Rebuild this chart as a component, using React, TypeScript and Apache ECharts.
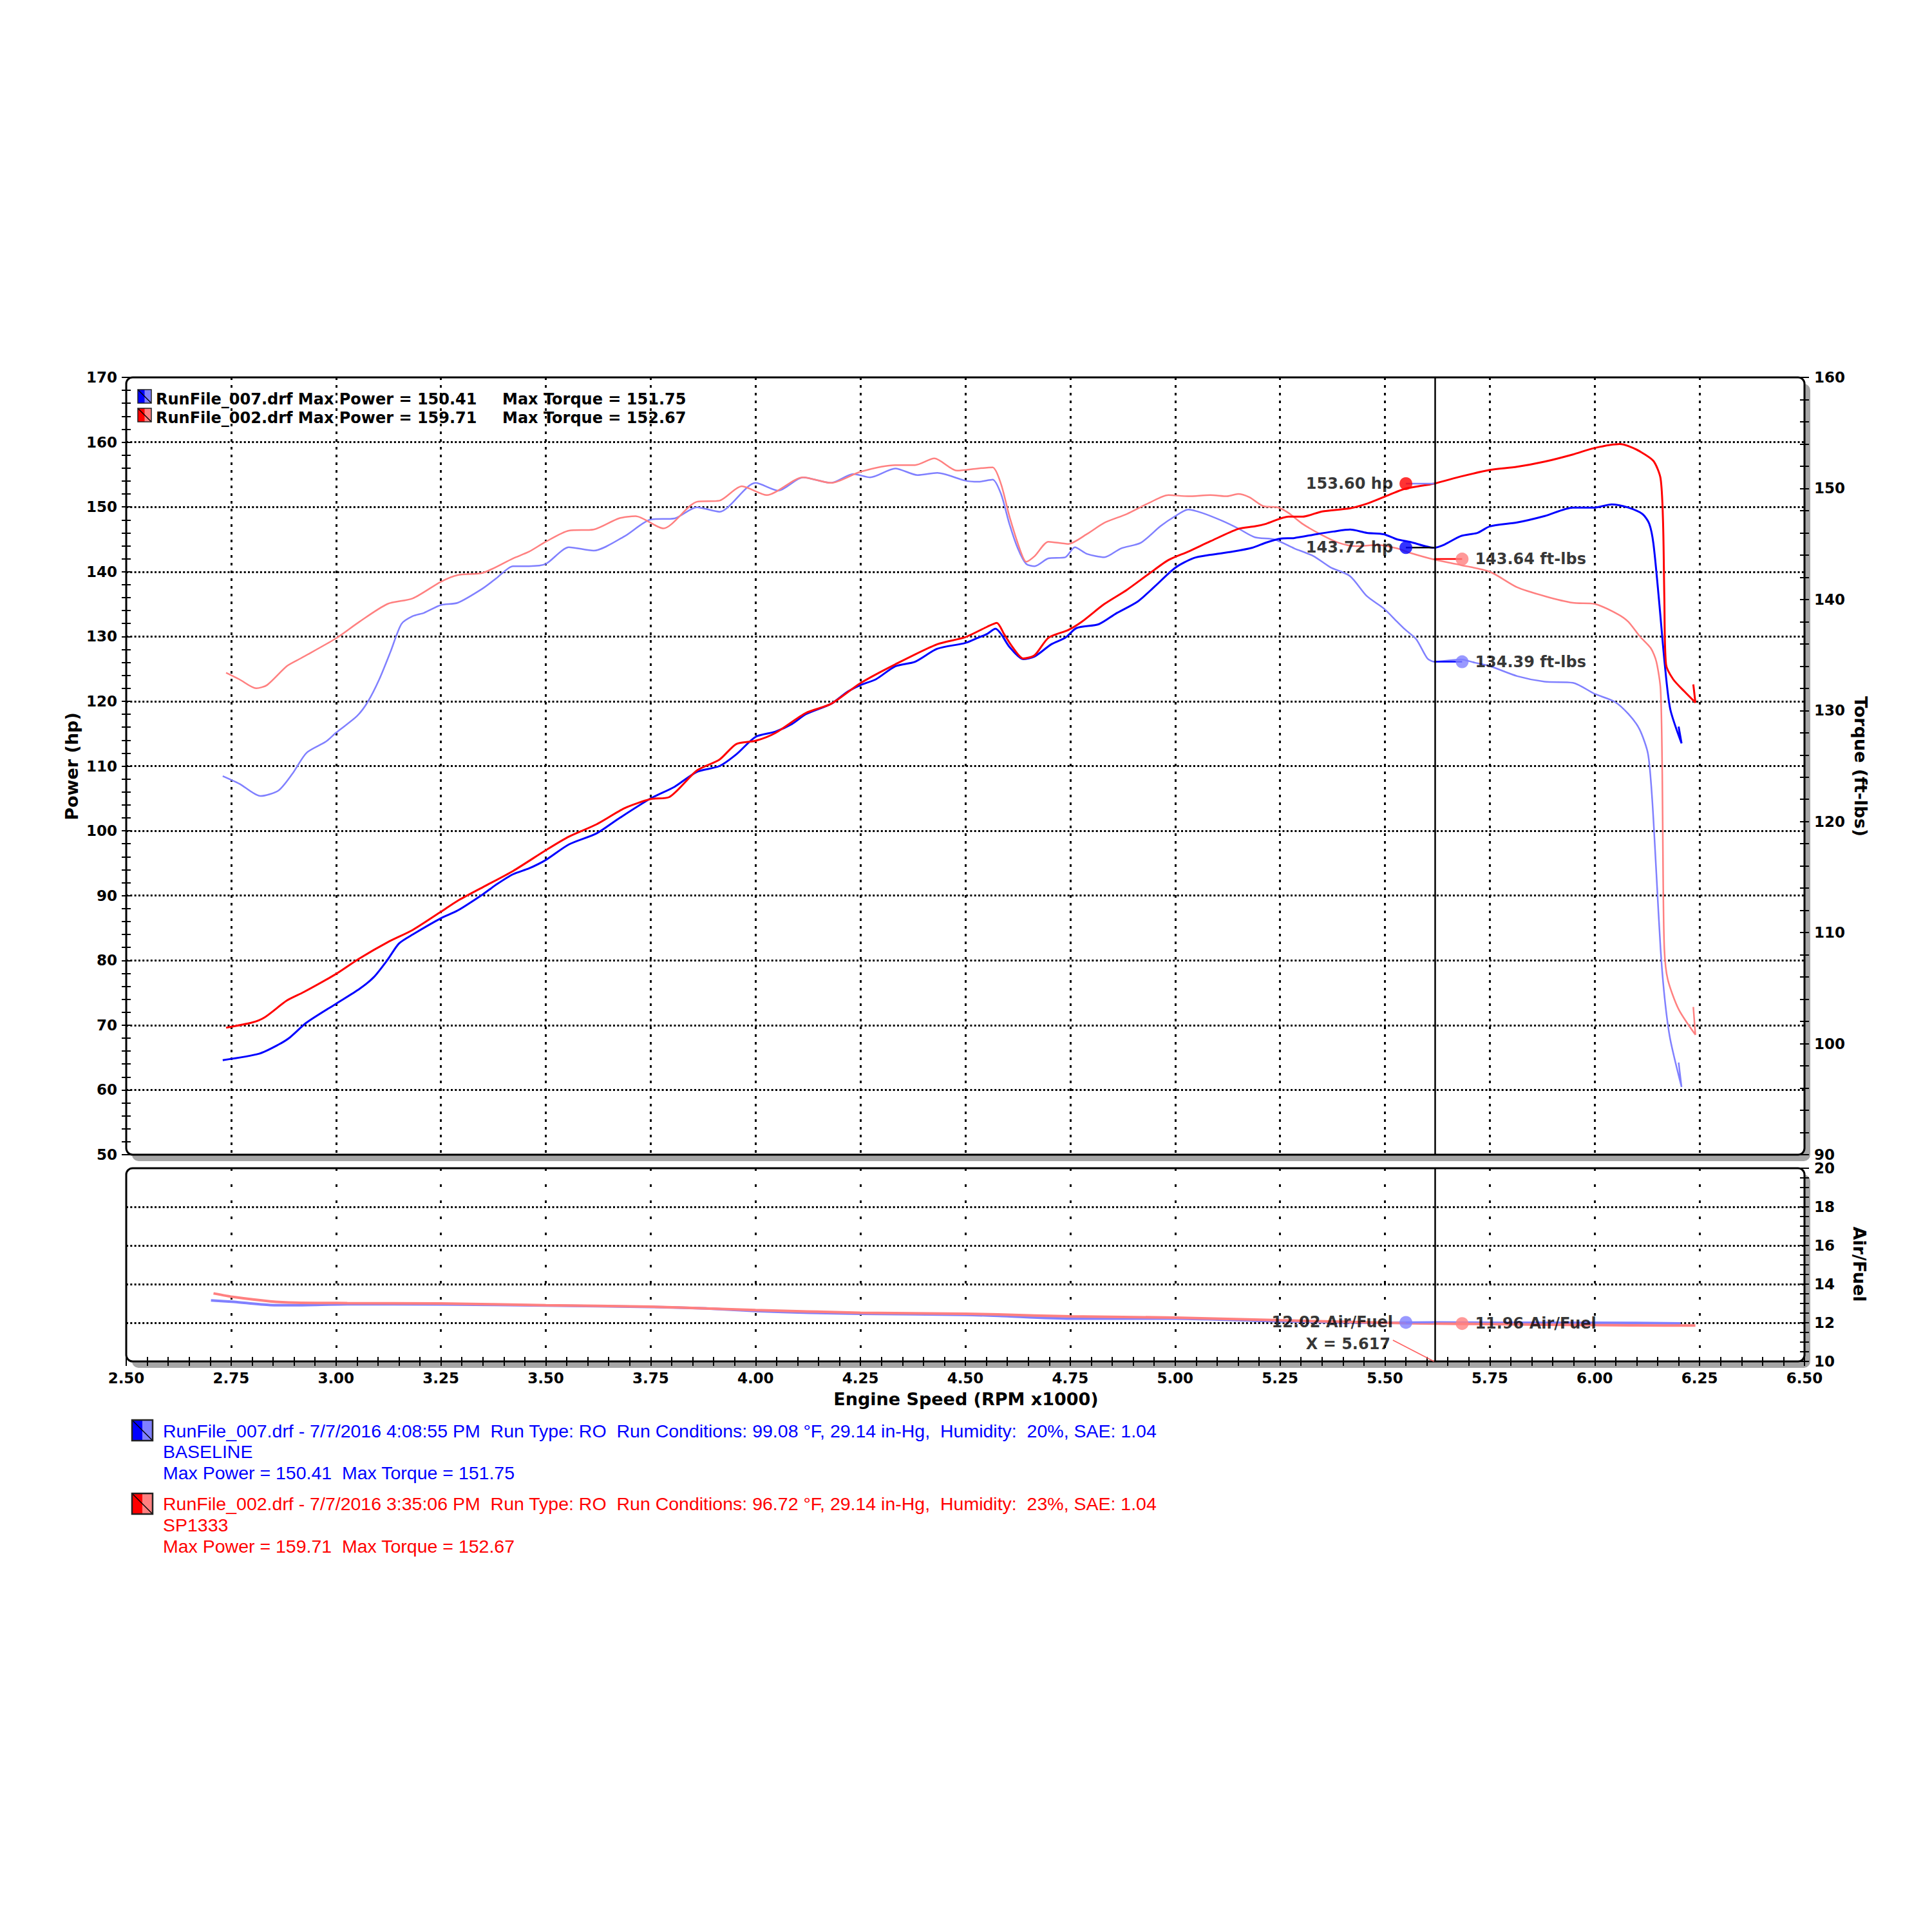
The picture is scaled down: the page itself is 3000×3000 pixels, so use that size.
import React, { useEffect, useRef } from "react";
import * as echarts from "echarts";

// ---------- data (RPM x1000 and values) ----------
const bluePowerRpm = [2.73, 2.817, 2.863, 2.89, 2.93, 3.0, 3.056, 3.09, 3.123, 3.15, 3.183, 3.25, 3.29, 3.35, 3.382, 3.422, 3.46, 3.5, 3.555, 3.621, 3.674, 3.75, 3.807, 3.86, 3.914, 3.954, 4.0, 4.047, 4.087, 4.12, 4.18, 4.22, 4.25, 4.287, 4.333, 4.38, 4.433, 4.5, 4.53, 4.552, 4.572, 4.585, 4.605, 4.638, 4.665, 4.705, 4.738, 4.765, 4.818, 4.858, 4.911, 4.951, 5.0, 5.044, 5.084, 5.137, 5.184, 5.217, 5.25, 5.284, 5.337, 5.377, 5.417, 5.457, 5.497, 5.529, 5.56, 5.617, 5.642, 5.681, 5.721, 5.75, 5.815, 5.881, 5.948, 6.0, 6.04, 6.08, 6.114, 6.13, 6.14, 6.153, 6.167, 6.18, 6.207, 6.2];
const bluePowerHp = [64.6, 65.6, 67.0, 68.1, 70.4, 73.3, 75.6, 77.4, 80.1, 82.6, 84.0, 86.5, 87.7, 90.2, 91.7, 93.3, 94.2, 95.5, 97.9, 99.6, 101.9, 105.0, 106.8, 109.1, 110.0, 111.8, 114.5, 115.3, 116.5, 118.0, 119.6, 121.5, 122.5, 123.4, 125.4, 126.1, 128.1, 129.0, 129.8, 130.4, 131.2, 130.4, 128.4, 126.5, 126.9, 128.8, 129.8, 131.3, 131.9, 133.5, 135.4, 137.7, 140.6, 142.1, 142.6, 143.1, 143.7, 144.5, 145.1, 145.2, 145.8, 146.2, 146.5, 146.0, 145.8, 145.0, 144.6, 143.7, 144.2, 145.5, 146.0, 147.0, 147.6, 148.6, 149.9, 149.9, 150.4, 149.9, 148.9, 147.4, 144.3, 135.8, 125.7, 118.8, 113.5, 116.1];

const redPowerRpm = [2.738, 2.8, 2.83, 2.883, 2.923, 3.0, 3.056, 3.123, 3.183, 3.25, 3.29, 3.35, 3.422, 3.5, 3.555, 3.621, 3.688, 3.75, 3.794, 3.86, 3.914, 3.954, 4.0, 4.047, 4.12, 4.18, 4.25, 4.333, 4.433, 4.5, 4.552, 4.575, 4.592, 4.612, 4.638, 4.665, 4.698, 4.745, 4.778, 4.831, 4.885, 4.938, 4.984, 5.031, 5.084, 5.15, 5.19, 5.217, 5.27, 5.304, 5.35, 5.417, 5.457, 5.5, 5.548, 5.617, 5.681, 5.75, 5.815, 5.881, 5.948, 6.0, 6.06, 6.08, 6.107, 6.14, 6.157, 6.163, 6.166, 6.17, 6.187, 6.214, 6.24, 6.235];
const redPowerHp = [69.6, 70.4, 71.2, 73.8, 75.1, 77.9, 80.3, 82.8, 84.7, 87.5, 89.2, 91.3, 93.8, 97.0, 99.1, 101.0, 103.5, 104.9, 105.2, 109.3, 111.0, 113.4, 113.9, 115.1, 118.2, 119.6, 122.8, 125.7, 128.8, 129.9, 131.5, 132.1, 130.4, 128.4, 126.6, 127.1, 129.8, 131.0, 132.3, 135.0, 137.2, 139.7, 141.8, 143.1, 144.7, 146.6, 147.0, 147.4, 148.5, 148.5, 149.3, 149.8, 150.5, 151.6, 152.8, 153.6, 154.7, 155.7, 156.2, 157.0, 158.1, 159.1, 159.7, 159.4, 158.6, 157.1, 154.4, 147.4, 135.8, 125.7, 123.4, 121.5, 119.8, 122.6];

const blueTorqueRpm = [2.73, 2.77, 2.82, 2.863, 2.896, 2.93, 2.976, 3.0, 3.05, 3.076, 3.103, 3.13, 3.156, 3.183, 3.21, 3.25, 3.29, 3.35, 3.382, 3.422, 3.46, 3.5, 3.555, 3.614, 3.688, 3.75, 3.807, 3.86, 3.914, 4.0, 4.054, 4.113, 4.18, 4.233, 4.273, 4.333, 4.386, 4.433, 4.5, 4.53, 4.565, 4.585, 4.605, 4.625, 4.645, 4.665, 4.698, 4.738, 4.761, 4.79, 4.831, 4.871, 4.918, 4.965, 5.0, 5.031, 5.064, 5.111, 5.15, 5.19, 5.237, 5.284, 5.33, 5.37, 5.417, 5.457, 5.497, 5.529, 5.548, 5.575, 5.601, 5.617, 5.681, 5.715, 5.75, 5.815, 5.881, 5.948, 6.0, 6.047, 6.08, 6.107, 6.127, 6.137, 6.147, 6.157, 6.167, 6.18, 6.207, 6.2];
const blueTorqueFtLb = [124.1, 123.4, 122.3, 122.8, 124.3, 126.2, 127.2, 128.0, 129.5, 130.8, 132.8, 135.3, 137.8, 138.5, 138.8, 139.5, 139.7, 141.0, 141.9, 143.0, 143.0, 143.2, 144.7, 144.4, 145.7, 147.2, 147.3, 148.3, 147.9, 150.5, 149.8, 151.0, 150.5, 151.3, 151.0, 151.8, 151.2, 151.4, 150.7, 150.6, 150.8, 149.5, 146.8, 144.6, 143.2, 143.0, 143.7, 143.8, 144.7, 144.1, 143.8, 144.6, 145.1, 146.6, 147.5, 148.1, 147.8, 147.1, 146.4, 145.6, 145.4, 144.6, 143.9, 142.9, 142.1, 140.3, 139.2, 138.0, 137.3, 136.4, 134.7, 134.4, 134.6, 134.3, 134.0, 133.1, 132.6, 132.5, 131.5, 130.8, 129.7, 128.3, 126.1, 122.0, 115.3, 108.5, 104.0, 100.4, 96.1, 98.3];

const redTorqueRpm = [2.738, 2.77, 2.81, 2.836, 2.883, 2.916, 3.0, 3.056, 3.123, 3.183, 3.25, 3.29, 3.35, 3.422, 3.46, 3.5, 3.555, 3.614, 3.674, 3.714, 3.78, 3.86, 3.914, 3.967, 4.027, 4.113, 4.18, 4.25, 4.333, 4.38, 4.426, 4.48, 4.53, 4.565, 4.585, 4.605, 4.632, 4.645, 4.665, 4.698, 4.745, 4.79, 4.831, 4.885, 4.938, 4.984, 5.031, 5.084, 5.124, 5.15, 5.177, 5.21, 5.244, 5.27, 5.304, 5.35, 5.39, 5.43, 5.482, 5.529, 5.56, 5.617, 5.681, 5.75, 5.815, 5.881, 5.948, 6.0, 6.054, 6.08, 6.107, 6.134, 6.147, 6.157, 6.161, 6.163, 6.166, 6.174, 6.2, 6.24, 6.235];
const redTorqueFtLb = [133.4, 132.8, 132.0, 132.3, 134.0, 134.7, 136.5, 138.0, 139.6, 140.1, 141.6, 142.2, 142.4, 143.7, 144.3, 145.2, 146.2, 146.3, 147.3, 147.5, 146.4, 148.8, 148.9, 150.2, 149.4, 151.0, 150.5, 151.5, 152.1, 152.1, 152.7, 151.6, 151.8, 151.9, 150.4, 147.5, 144.3, 143.4, 143.9, 145.2, 145.0, 145.9, 146.9, 147.7, 148.7, 149.4, 149.3, 149.4, 149.3, 149.5, 149.2, 148.4, 148.3, 147.8, 146.8, 145.8, 145.1, 144.8, 144.9, 144.6, 144.2, 143.6, 143.1, 142.5, 141.1, 140.3, 139.7, 139.6, 138.7, 138.0, 136.7, 135.6, 134.4, 131.9, 124.3, 115.3, 108.5, 105.8, 103.1, 100.8, 103.3];

const blueAfrRpm = [2.702, 2.757, 2.843, 2.904, 3.027, 3.25, 3.5, 3.75, 3.883, 4.0, 4.128, 4.25, 4.5, 4.578, 4.75, 5.0, 5.25, 5.5, 5.617, 5.75, 6.0, 6.205];
const blueAfr = [13.16, 13.08, 12.92, 12.91, 12.96, 12.95, 12.89, 12.82, 12.74, 12.61, 12.52, 12.47, 12.41, 12.36, 12.22, 12.22, 12.08, 12.0, 12.02, 12.0, 12.0, 11.97];
const redAfrRpm = [2.708, 2.757, 2.843, 2.904, 3.027, 3.25, 3.5, 3.75, 3.883, 4.0, 4.25, 4.5, 4.578, 4.75, 5.0, 5.25, 5.5, 5.617, 5.75, 6.0, 6.167, 6.24];
const redAfr = [13.52, 13.33, 13.11, 13.04, 13.02, 13.0, 12.91, 12.83, 12.74, 12.66, 12.52, 12.47, 12.43, 12.33, 12.27, 12.13, 12.0, 11.96, 11.93, 11.88, 11.86, 11.86];

// cursor readout
const cursorRpm = 5.617;
const cursorPower = { red: 153.6, blue: 143.72 };
const cursorTorque = { red: 143.64, blue: 134.39 };
const cursorAfr = { blue: 12.02, red: 11.96 };

// tick ranges
const rpmMin = 2.5, rpmMax = 6.5, rpmStep = 0.25;
const hpMin = 50, hpMax = 170, hpStep = 10;
const tqMin = 90, tqMax = 160, tqStep = 10;
const afrMin = 10, afrMax = 20, afrStep = 2;

// text
const legendTop = [
  { file: "RunFile_007.drf", maxPower: "150.41", maxTorque: "151.75" },
  { file: "RunFile_002.drf", maxPower: "159.71", maxTorque: "152.67" },
];
const runInfo = [
  {
    line1: "RunFile_007.drf - 7/7/2016 4:08:55 PM  Run Type: RO  Run Conditions: 99.08 °F, 29.14 in-Hg,  Humidity:  20%, SAE: 1.04",
    line2: "BASELINE",
    line3: "Max Power = 150.41  Max Torque = 151.75",
  },
  {
    line1: "RunFile_002.drf - 7/7/2016 3:35:06 PM  Run Type: RO  Run Conditions: 96.72 °F, 29.14 in-Hg,  Humidity:  23%, SAE: 1.04",
    line2: "SP1333",
    line3: "Max Power = 159.71  Max Torque = 152.67",
  },
];

// ---------- styling ----------
const BLUE = "#0000ff";
const RED = "#ff0000";
const LBLUE = "#8080ff";
const LRED = "#ff8080";
const FONT = '"DejaVu Sans", Verdana, sans-serif';
const SANS = '"Liberation Sans", Arial, sans-serif';

const G0 = { left: 196, top: 586, width: 2606, height: 1207 };
const G1 = { left: 196, top: 1814, width: 2606, height: 300 };
const DOT_DX = 0.067;

const zip = (xs: number[], ys: number[]) => xs.map((x, i) => [x, ys[i]]);

const tickStyle = { color: "#000", width: 2 };
const labelStyle = { color: "#000", fontFamily: FONT, fontWeight: "bold" as const, fontSize: 23 };

function frame(g: { left: number; top: number; width: number; height: number }) {
  return [
    {
      type: "rect", z: -11, silent: true,
      shape: { x: g.left + 9, y: g.top + 10, width: g.width, height: g.height, r: 10 },
      style: { fill: "#a6a6a6" },
    },
    {
      type: "rect", z: -10, silent: true,
      shape: { x: g.left, y: g.top, width: g.width, height: g.height, r: 10 },
      style: { fill: "#ffffff", stroke: "#000", lineWidth: 3 },
    },
  ];
}

function icon(x: number, y: number, s: number, dark: string, light: string, bw: number) {
  return {
    type: "group", silent: true,
    children: [
      { type: "rect", shape: { x, y, width: s, height: s }, style: { fill: light } },
      { type: "rect", shape: { x, y, width: s / 2, height: s }, style: { fill: dark } },
      { type: "line", shape: { x1: x, y1: y, x2: x + s, y2: y + s }, style: { stroke: "#000", lineWidth: 1.5 } },
      { type: "rect", shape: { x, y, width: s, height: s }, style: { fill: "none", stroke: "#222", lineWidth: bw } },
    ],
  };
}

function text(x: number, y: number, t: string, font: string, fill: string, align = "left", rotation = 0) {
  return {
    type: "text", x, y, rotation, silent: true,
    style: { text: t, font, fill, align, verticalAlign: "middle", textAlign: align, textVerticalAlign: "middle" },
  };
}

function buildOption() {
  const xBase = { type: "value", min: rpmMin, max: rpmMax, interval: rpmStep };
  const noLine = { show: false };

  const xAxis = [
    {
      ...xBase, gridIndex: 0, axisLine: noLine, axisTick: { show: false }, axisLabel: { show: false },
      splitLine: { show: true, showMinLine: false, showMaxLine: false, lineStyle: { color: "#000", width: 3, type: [4, 8] } },
    },
    {
      ...xBase, gridIndex: 1, position: "bottom", axisLine: noLine,
      axisTick: { show: true, length: 7, lineStyle: tickStyle },
      minorTick: { show: true, splitNumber: 5, length: 7, lineStyle: tickStyle },
      axisLabel: { ...labelStyle, show: true, margin: 14, showMinLabel: true, showMaxLabel: true, formatter: (v: number) => v.toFixed(2) },
      splitLine: { show: true, showMinLine: false, showMaxLine: false, lineStyle: { color: "#000", width: 3, type: [4, 21] } },
    },
    {
      ...xBase, gridIndex: 1, position: "bottom", axisLine: noLine,
      axisTick: { show: true, inside: true, length: 7, lineStyle: tickStyle },
      minorTick: { show: true, splitNumber: 5, length: 7, lineStyle: tickStyle },
      axisLabel: { show: false }, splitLine: { show: false },
    },
  ];

  const hpBase = { type: "value", gridIndex: 0, min: hpMin, max: hpMax, interval: hpStep, position: "left", axisLine: noLine };
  const tqBase = { type: "value", gridIndex: 0, min: tqMin, max: tqMax, interval: tqStep, position: "right", axisLine: noLine };
  const afrBase = { type: "value", gridIndex: 1, min: afrMin, max: afrMax, interval: afrStep, position: "right", axisLine: noLine };

  const yAxis = [
    {
      ...hpBase,
      axisTick: { show: true, length: 7, lineStyle: tickStyle },
      minorTick: { show: true, splitNumber: 5, length: 7, lineStyle: tickStyle },
      axisLabel: { ...labelStyle, margin: 14, showMinLabel: true, showMaxLabel: true },
      splitLine: { show: true, showMinLine: false, showMaxLine: false, lineStyle: { color: "#000", width: 3, type: [3, 3.3] } },
    },
    {
      ...tqBase,
      axisTick: { show: true, length: 7, lineStyle: tickStyle },
      minorTick: { show: true, splitNumber: 5, length: 7, lineStyle: tickStyle },
      axisLabel: { ...labelStyle, margin: 15, showMinLabel: true, showMaxLabel: true },
      splitLine: { show: false },
    },
    {
      ...hpBase,
      axisTick: { show: true, inside: true, length: 7, lineStyle: tickStyle },
      minorTick: { show: true, splitNumber: 5, length: 7, lineStyle: tickStyle },
      axisLabel: { show: false }, splitLine: { show: false },
    },
    {
      ...tqBase,
      axisTick: { show: true, inside: true, length: 7, lineStyle: tickStyle },
      minorTick: { show: true, splitNumber: 5, length: 7, lineStyle: tickStyle },
      axisLabel: { show: false }, splitLine: { show: false },
    },
    {
      ...afrBase,
      axisTick: { show: true, length: 7, lineStyle: tickStyle },
      minorTick: { show: true, splitNumber: 4, length: 7, lineStyle: tickStyle },
      axisLabel: { ...labelStyle, margin: 15, showMinLabel: true, showMaxLabel: true },
      splitLine: { show: true, showMinLine: false, showMaxLine: false, lineStyle: { color: "#000", width: 3, type: [3, 3.3] } },
    },
    {
      ...afrBase,
      axisTick: { show: true, inside: true, length: 7, lineStyle: tickStyle },
      minorTick: { show: true, splitNumber: 4, length: 7, lineStyle: tickStyle },
      axisLabel: { show: false }, splitLine: { show: false },
    },
  ];

  const curve = (name: string, data: number[][], color: string, width: number, xi: number, yi: number) => ({
    name, type: "line", xAxisIndex: xi, yAxisIndex: yi, data, smooth: 0.25,
    showSymbol: false, symbol: "none", silent: true,
    lineStyle: { color, width }, itemStyle: { color }, z: 3,
  });

  const connector = (value: number, from: number, color: string, xi: number, yi: number) => ({
    type: "line", xAxisIndex: xi, yAxisIndex: yi, symbol: "none", silent: true, z: 4,
    data: [[from, value], [cursorRpm, value]], lineStyle: { color, width: 2.5 },
  });

  const annLabel = { show: true, color: "#000", fontFamily: FONT, fontWeight: "bold", fontSize: 24, distance: 10 };

  const dots = (xi: number, yi: number, items: { x: number; y: number; color: string; text: string; pos: string }[]) => ({
    type: "scatter", xAxisIndex: xi, yAxisIndex: yi, symbolSize: 20, silent: true, z: 6,
    data: items.map((d) => ({
      value: [d.x, d.y], itemStyle: { color: d.color },
      label: { ...annLabel, position: d.pos, formatter: d.text },
    })),
  });

  const cursorMark = { silent: true, symbol: ["none", "none"], label: { show: false }, lineStyle: { color: "#000", width: 2.5, type: "solid" }, data: [{ xAxis: cursorRpm }] };

  const series: any[] = [
    curve("RunFile_007 Torque", zip(blueTorqueRpm, blueTorqueFtLb), LBLUE, 2.5, 0, 1),
    curve("RunFile_002 Torque", zip(redTorqueRpm, redTorqueFtLb), LRED, 2.5, 0, 1),
    { ...curve("RunFile_007 Power", zip(bluePowerRpm, bluePowerHp), BLUE, 3, 0, 0), markLine: cursorMark },
    curve("RunFile_002 Power", zip(redPowerRpm, redPowerHp), RED, 3, 0, 0),
    { ...curve("RunFile_007 AFR", zip(blueAfrRpm, blueAfr), LBLUE, 4, 1, 4), markLine: cursorMark },
    curve("RunFile_002 AFR", zip(redAfrRpm, redAfr), LRED, 4, 1, 4),
    connector(cursorPower.red, cursorRpm - DOT_DX, LBLUE, 0, 0),
    connector(cursorPower.blue, cursorRpm - DOT_DX, "#000", 0, 0),
    connector(cursorTorque.red, cursorRpm + DOT_DX, RED, 0, 1),
    connector(cursorTorque.blue, cursorRpm + DOT_DX, BLUE, 0, 1),
    connector(cursorAfr.blue, cursorRpm - DOT_DX, LBLUE, 1, 4),
    connector(cursorAfr.red, cursorRpm + DOT_DX, LRED, 1, 4),
    dots(0, 0, [
      { x: cursorRpm - DOT_DX, y: cursorPower.red, color: RED, text: `${cursorPower.red.toFixed(2)} hp`, pos: "left" },
      { x: cursorRpm - DOT_DX, y: cursorPower.blue, color: BLUE, text: `${cursorPower.blue.toFixed(2)} hp`, pos: "left" },
    ]),
    dots(0, 1, [
      { x: cursorRpm + DOT_DX, y: cursorTorque.red, color: LRED, text: `${cursorTorque.red.toFixed(2)} ft-lbs`, pos: "right" },
      { x: cursorRpm + DOT_DX, y: cursorTorque.blue, color: LBLUE, text: `${cursorTorque.blue.toFixed(2)} ft-lbs`, pos: "right" },
    ]),
    dots(1, 4, [
      { x: cursorRpm - DOT_DX, y: cursorAfr.blue, color: LBLUE, text: `${cursorAfr.blue.toFixed(2)} Air/Fuel`, pos: "left" },
      { x: cursorRpm + DOT_DX, y: cursorAfr.red, color: LRED, text: `${cursorAfr.red.toFixed(2)} Air/Fuel`, pos: "right" },
    ]),
    {
      type: "line", xAxisIndex: 1, yAxisIndex: 4, symbol: "none", silent: true, z: 4,
      data: [[cursorRpm - 0.098, 11.1], [cursorRpm, afrMin]], lineStyle: { color: "#ff6060", width: 1.5 },
    },
    {
      type: "scatter", xAxisIndex: 1, yAxisIndex: 4, symbolSize: 1, silent: true, z: 6,
      itemStyle: { color: "rgba(0,0,0,0)" },
      data: [{ value: [cursorRpm - 0.1, 10.9], label: { ...annLabel, distance: 2, position: "left", formatter: `X = ${cursorRpm.toFixed(3)}` } }],
    },
  ];

  const legendFont = `bold 24px ${FONT}`;
  const nameFont = `bold 27px ${FONT}`;
  const infoFont = `28.5px ${SANS}`;

  const graphic: any[] = [
    ...frame(G0),
    ...frame(G1),
    icon(214, 605, 21, BLUE, LBLUE, 1.5),
    icon(214, 634, 21, RED, LRED, 1.5),
    text(242, 620, `${legendTop[0].file} Max Power = ${legendTop[0].maxPower}`, legendFont, "#000"),
    text(780, 620, `Max Torque = ${legendTop[0].maxTorque}`, legendFont, "#000"),
    text(242, 649, `${legendTop[1].file} Max Power = ${legendTop[1].maxPower}`, legendFont, "#000"),
    text(780, 649, `Max Torque = ${legendTop[1].maxTorque}`, legendFont, "#000"),
    text(111, 1190, "Power (hp)", nameFont, "#000", "center", Math.PI / 2),
    text(2889, 1190, "Torque (ft-lbs)", nameFont, "#000", "center", -Math.PI / 2),
    text(2887, 1963, "Air/Fuel", nameFont, "#000", "center", -Math.PI / 2),
    text(1500, 2172, "Engine Speed (RPM x1000)", nameFont, "#000", "center"),
    icon(205, 2205, 32, BLUE, LBLUE, 2.5),
    text(253, 2222, runInfo[0].line1, infoFont, BLUE),
    text(253, 2254, runInfo[0].line2, infoFont, BLUE),
    text(253, 2287, runInfo[0].line3, infoFont, BLUE),
    icon(205, 2319, 32, RED, LRED, 2.5),
    text(253, 2335, runInfo[1].line1, infoFont, RED),
    text(253, 2368, runInfo[1].line2, infoFont, RED),
    text(253, 2401, runInfo[1].line3, infoFont, RED),
  ];

  return {
    animation: false,
    backgroundColor: "#ffffff",
    textStyle: { fontFamily: FONT },
    grid: [
      { ...G0, containLabel: false },
      { ...G1, containLabel: false },
    ],
    xAxis,
    yAxis,
    series,
    graphic,
  };
}

export default function App() {
  const ref = useRef<HTMLDivElement>(null);
  useEffect(() => {
    if (!ref.current) return;
    const chart = echarts.init(ref.current, undefined, { renderer: "svg" });
    chart.setOption(buildOption() as any);
    return () => chart.dispose();
  }, []);
  return (
    <div
      ref={ref}
      style={{ position: "absolute", left: 0, top: 0, width: 3000, height: 3000, background: "#fff" }}
    />
  );
}
